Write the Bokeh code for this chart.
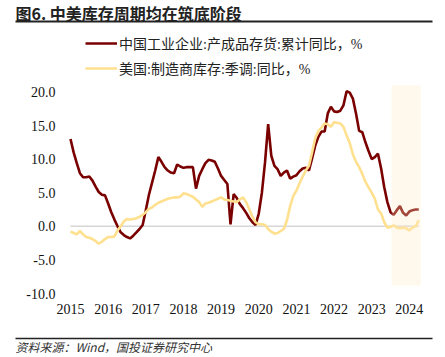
from bokeh.plotting import figure
from bokeh.models import (Range1d, FixedTicker, NumeralTickFormatter, BoxAnnotation,
                          Label, Arrow, Legend, LegendItem, ColumnDataSource)
from bokeh.embed import file_html
from bokeh.resources import INLINE

# ---------------- data (monthly, Jan 2015 .. Apr 2024) ----------------
start_year = 2015
china_inv = [13.0, 11.0, 9.4, 7.9, 7.3, 7.3, 7.4, 6.8, 5.9, 5.1, 4.7, 4.6,
             3.4, 2.1, 1.0, 0.0, -0.9, -1.3, -1.6, -1.8, -1.4, -0.9, -0.4, 0.2,
             2.4, 4.7, 6.5, 8.3, 10.3, 9.6, 8.8, 8.3, 8.0, 7.9, 9.2, 8.9,
             8.7, 8.8, 8.8, 8.8, 5.6, 7.5, 8.5, 9.4, 9.9, 9.8, 9.6, 8.6,
             7.5, 6.9, 6.3, 0.3, 4.8, 4.2, 3.3, 2.7, 2.0, 1.2, 0.6, 0.2,
             1.9, 5.0, 9.5, 15.2, 10.5, 9.0, 8.5, 7.5, 8.0, 8.3, 7.1, 7.4,
             7.6, 8.2, 8.6, 8.7, 8.3, 10.1, 12.0, 13.3, 14.1, 14.1, 16.8, 17.8,
             17.1, 17.0, 17.2, 18.0, 20.1, 19.9, 19.0, 16.8, 14.2, 14.0, 12.5, 11.2,
             10.0, 10.3, 10.8, 8.6, 5.8, 3.6, 2.1, 1.7, 2.4, 3.0, 2.0, 1.6,
             2.2, 2.4, 2.5, 2.5]
us_inv = [-0.8, -1.0, -1.2, -0.7, -1.2, -1.6, -1.7, -1.9, -2.2, -2.6, -2.3, -1.9,
          -1.6, -1.6, -1.5, -0.6, 0.0, 0.7, 1.1, 1.0, 1.1, 1.2, 1.4, 1.7,
          2.1, 2.6, 2.8, 3.2, 3.5, 3.7, 3.9, 4.1, 4.2, 4.3, 4.3, 4.4,
          4.9, 4.8, 4.6, 4.4, 4.0, 3.6, 2.9, 3.4, 3.5, 3.7, 3.9, 4.1,
          4.3, 4.0, 3.9, 3.8, 3.7, 3.6, 4.0, 4.3, 3.6, 2.5, 1.4, 0.6,
          0.3, 0.3, 0.2, -0.4, -0.8, -1.1, -1.0, -0.7, -0.4, 0.9, 3.0, 4.5,
          5.3, 6.4, 7.4, 8.3, 9.0, 11.0, 13.1, 14.2, 14.7, 15.3, 15.2, 14.8,
          15.5, 15.4, 15.3, 14.8, 13.5, 12.4, 10.7, 9.6, 8.8, 7.8, 6.6, 5.8,
          5.0, 4.1, 2.5, 1.9, 0.6, -0.2, -0.1, 0.15, -0.2, -0.3, -0.2, -0.3,
          -0.6, -0.2, 0.0, 0.9]
t = [start_year + i / 12.0 for i in range(len(china_inv))]

x_ticks = list(range(2015, 2025))
y_ticks = [-10, -5, 0, 5, 10, 15, 20]
shade_x = [2023.53, 2024.30]
shade_y = [-8.8, 20.95]

series_names = ["中国工业企业:产成品存货:累计同比，%", "美国:制造商库存:季调:同比，%"]
title_text = "图6. 中美库存周期均在筑底阶段"
source_text = "资料来源：Wind，国投证券研究中心"

RED = "#7a0000"
YEL = "#ffe08e"
SERIF = "Liberation Serif, Noto Sans CJK SC"
CJK = "Noto Sans CJK SC"

# ---------------- geometry: frame covers whole canvas ----------------
W, H = 445, 357
X0_PX, PX_PER_YEAR = 70.0, 37.65       # canvas x of Jan 2015, px per year
Y0_PX, PX_PER_UNIT = 225.8, 6.72       # canvas y of value 0, px per unit
x_lo = start_year - X0_PX / PX_PER_YEAR
x_hi = start_year + (W - X0_PX) / PX_PER_YEAR
y_hi = Y0_PX / PX_PER_UNIT
y_lo = -(H - Y0_PX) / PX_PER_UNIT

p = figure(width=W, height=H, output_backend="svg", toolbar_location=None,
           x_range=Range1d(x_lo, x_hi), y_range=Range1d(y_lo, y_hi),
           min_border=0, min_border_left=0, min_border_right=0,
           min_border_top=0, min_border_bottom=0)
p.outline_line_color = None
p.grid.visible = False
p.background_fill_color = "white"
p.border_fill_color = "white"

for ax in (p.xaxis[0], p.yaxis[0]):
    ax.axis_line_color = None
    ax.major_tick_line_color = None
    ax.minor_tick_line_color = None
    ax.major_tick_out = 0
    ax.major_tick_in = 0
    ax.major_label_text_font = SERIF
    ax.major_label_text_font_size = "14px"
    ax.major_label_text_color = "#111111"

p.xaxis[0].ticker = FixedTicker(ticks=x_ticks)
p.xaxis[0].formatter = NumeralTickFormatter(format="0")
p.xaxis[0].fixed_location = -(300 - Y0_PX) / PX_PER_UNIT
p.xaxis[0].major_label_standoff = 3
p.yaxis[0].ticker = FixedTicker(ticks=y_ticks)
p.yaxis[0].formatter = NumeralTickFormatter(format="0.0")
p.yaxis[0].fixed_location = float(start_year)
p.yaxis[0].major_label_standoff = 15

# zero line across the data span
p.line([t[0], t[-1]], [0, 0], line_color="#d6d6d6", line_width=1.5)

src = ColumnDataSource(dict(t=t, cn=china_inv, us=us_inv))
r_cn = p.line("t", "cn", source=src, line_color=RED, line_width=2.6)
r_us = p.line("t", "us", source=src, line_color=YEL, line_width=2.6)

p.add_layout(BoxAnnotation(left=shade_x[0], right=shade_x[1], bottom=shade_y[0], top=shade_y[1],
                           fill_color="#ffe8c0", fill_alpha=0.3, line_color=None, level="overlay"))

legend = Legend(items=[LegendItem(label=series_names[0], renderers=[r_cn]),
                       LegendItem(label=series_names[1], renderers=[r_us])],
                location=(85, H - 78), orientation="vertical",
                glyph_width=32, glyph_height=20, label_height=20, spacing=5,
                padding=0, margin=0, label_standoff=2,
                label_text_font=SERIF, label_text_font_size="14px", label_text_color="#222222",
                border_line_color=None, background_fill_alpha=0)
p.add_layout(legend, "center")

# title, source and rules (screen units: x from left, y from bottom)
p.add_layout(Label(x=15, y=H - 12, x_units="screen", y_units="screen", text=title_text,
                   text_font=CJK, text_font_size="16px", text_font_style="bold",
                   text_color="#222222", text_baseline="middle"))
p.add_layout(Label(x=15, y=H - 346, x_units="screen", y_units="screen", text=source_text,
                   text_font=CJK, text_font_size="12px", text_font_style="italic",
                   text_color="#333333", text_baseline="middle"))
p.add_layout(Arrow(end=None, x_start=15, y_start=H - 21, x_end=432, y_end=H - 21,
                   start_units="screen", end_units="screen", line_color="#222222", line_width=2))
p.add_layout(Arrow(end=None, x_start=15, y_start=H - 338, x_end=432, y_end=H - 338,
                   start_units="screen", end_units="screen", line_color="#222222", line_width=1.5))

open("out.html", "w").write(file_html(p, INLINE))
